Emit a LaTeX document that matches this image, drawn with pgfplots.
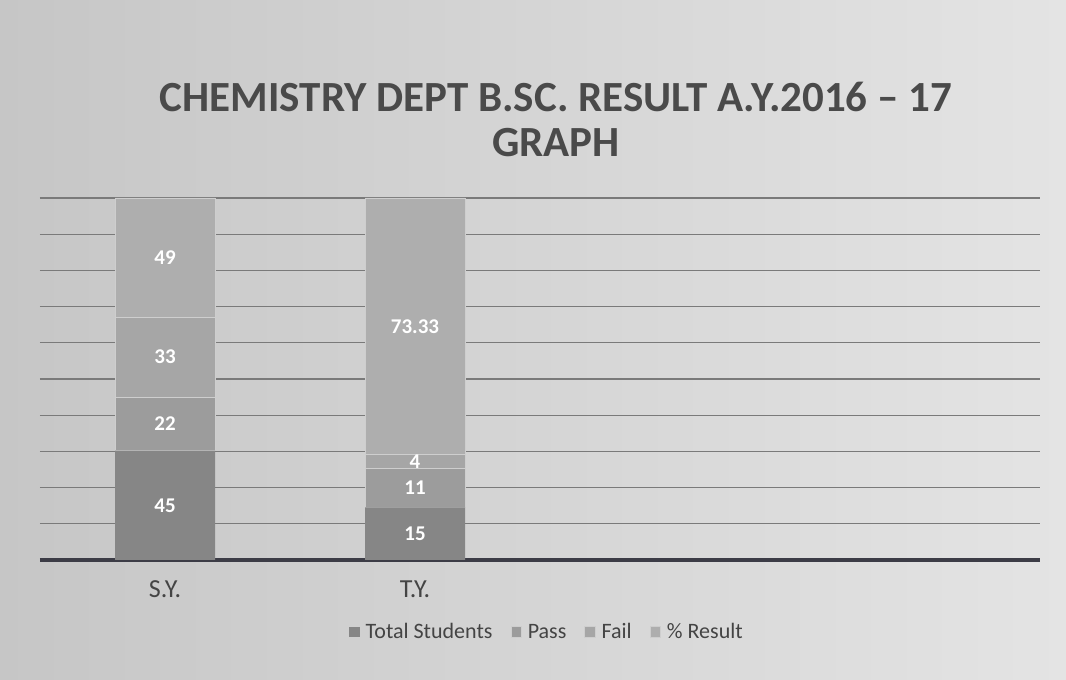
\documentclass[border=0pt]{standalone}
\usepackage{pgfplots}
\usepackage{pgfplotstable}
\pgfplotsset{compat=1.18}
\usepackage{fontspec}
\setmainfont{Carlito}
\definecolor{cTot}{HTML}{868686}
\definecolor{cPass}{HTML}{9C9C9C}
\definecolor{cFail}{HTML}{A6A6A6}
\definecolor{cRes}{HTML}{AEAEAE}
\definecolor{bgL}{HTML}{C6C6C6}
\definecolor{bgR}{HTML}{E4E4E4}
\definecolor{titlec}{HTML}{4A4A4A}
\definecolor{labc}{HTML}{444444}
\definecolor{gridc}{HTML}{7A7A7A}
\definecolor{axisc}{HTML}{3C3C46}
\pgfplotsset{legimg/.style={legend image code/.code={\fill[##1] (0pt,-2.6pt) rectangle (5.2pt,2.6pt);}}}
% percentages of each bar (100% stacked), raw values: S.Y. 45 22 33 49 ; T.Y. 15 11 4 73.33
\pgfplotstableread{
x tot pass fail res
0 30.20 14.77 22.15 32.88
1 14.52 10.65 3.87 70.96
}\bars
\pgfplotstableread{
x y lab
0 15.10 45
0 37.58 22
0 56.04 33
0 83.56 49
1 7.26 15
1 19.84 11
1 27.10 4
1 64.52 73.33
}\labs
\begin{document}
\begin{tikzpicture}
\shade[left color=bgL, right color=bgR] (0pt,0pt) rectangle (533pt,340pt);
\node[font=\fontsize{21.5}{25}\selectfont\bfseries, text=titlec] at (278pt,291.5pt) {CHEMISTRY DEPT B.SC. RESULT A.Y.2016 – 17};
\node[font=\fontsize{21.5}{25}\selectfont\bfseries, text=titlec] at (278pt,268.5pt) {GRAPH};
\begin{axis}[
  at={(20pt,60pt)}, anchor=south west,
  width=500pt, height=181pt, scale only axis,
  ybar stacked, bar width=50pt,
  xmin=-0.5, xmax=3.5, ymin=0, ymax=100,
  axis x line*=bottom, axis y line*=left,
  x axis line style={-, line width=1.8pt, color=axisc},
  y axis line style={draw=none},
  xtick={0,1}, xticklabels={S.Y., T.Y.},
  xtick style={draw=none}, ytick style={draw=none},
  ytick={10,20,...,100}, yticklabels={},
  ymajorgrids, grid style={gridc, line width=0.6pt},
  x tick label style={font=\fontsize{13}{15}\selectfont, text=labc, yshift=-7pt},
  legend columns=4,
  legend style={draw=none, fill=none, at={(0.508,-0.199)}, anchor=center,
    font=\fontsize{11}{13}\selectfont, text=labc,
    nodes={text height=1.6ex, text depth=0.35ex},
    /tikz/every even column/.append style={column sep=7pt},
    /tikz/every odd column/.append style={column sep=1pt}},
]
\addplot[fill=cTot, draw=none, legimg] table[x=x, y=tot]{\bars};
\addplot[fill=cPass, draw=cRes!60!white, legimg] table[x=x, y=pass]{\bars};
\addplot[fill=cFail, draw=cRes!60!white, legimg] table[x=x, y=fail]{\bars};
\addplot[fill=cRes, draw=cRes!60!white, legimg] table[x=x, y=res]{\bars};
\legend{Total Students, Pass, Fail, \% Result}
\end{axis}
\begin{axis}[
  at={(20pt,60pt)}, anchor=south west,
  width=500pt, height=181pt, scale only axis,
  xmin=-0.5, xmax=3.5, ymin=0, ymax=100, hide axis,
]
\addplot[draw=none, mark=none, nodes near coords, point meta=explicit symbolic,
  every node near coord/.append style={anchor=center, font=\fontsize{10.5}{12}\selectfont\bfseries, text=white}]
  table[x=x, y=y, meta=lab]{\labs};
\end{axis}
\end{tikzpicture}
\end{document}
